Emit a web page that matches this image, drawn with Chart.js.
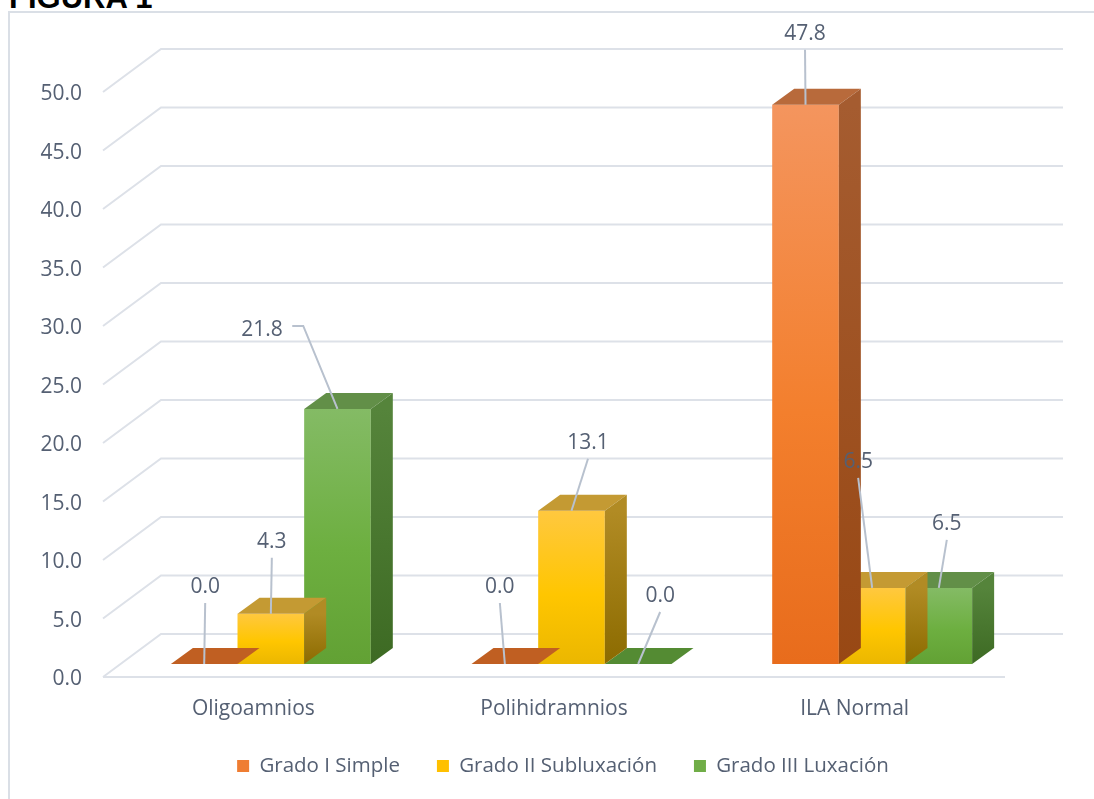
<!DOCTYPE html>
<html lang="es">
<head>
<meta charset="utf-8">
<title>Figura 1</title>
<script src="https://cdn.jsdelivr.net/npm/chart.js@4.4.1/dist/chart.umd.min.js"></script>
<style>
  html, body { margin: 0; padding: 0; background: #fff; overflow: hidden; }
  #wrap { position: relative; width: 1094px; height: 799px; overflow: hidden; }
  #caption { position: absolute; left: 9px; top: -18px; font: bold 31px/31px "Liberation Sans", Arial, sans-serif; color: #000; white-space: nowrap; }
  #frame { position: absolute; left: 8px; top: 11px; width: 1200px; height: 900px; border: 2px solid #dadfe6; }
  #chart { position: absolute; left: 0; top: 0; }
</style>
</head>
<body>
<div id="wrap">
  <div id="caption">FIGURA 1</div>
  <div id="frame"></div>
  <canvas id="chart" width="1094" height="799"></canvas>
</div>
<script>
const categories = ['Oligoamnios', 'Polihidramnios', 'ILA Normal'];
const seriesNames = ['Grado I Simple', 'Grado II Subluxación', 'Grado III Luxación'];
const gradoI = [0.0, 0.0, 47.8];
const gradoII = [4.3, 13.1, 6.5];
const gradoIII = [21.8, 0.0, 6.5];
const yTicks = [0, 5, 10, 15, 20, 25, 30, 35, 40, 45, 50];

const textColor = '#556073';

// face colours per series: front gradient, side gradient, top, flat (zero bar), legend box
const palette = [
  { front: ['#f4955e', '#f37f2d', '#e86c1c'], side: ['#a55c30', '#984814'], top: '#b86a3b', flat: '#c05f22', legend: '#ef7d32' },
  { front: ['#ffc83f', '#ffc600', '#ebb700'], side: ['#b18b24', '#8c6b00'], top: '#c49a33', flat: '#c49a33', legend: '#ffc000' },
  { front: ['#84bb65', '#6daf40', '#62a134'], side: ['#55843b', '#3d6a23'], top: '#628f48', flat: '#548b33', legend: '#70ad47' }
];

// label centre relative to the top-centre of each bar's front face
const labelShift = [
  [[1, -79], [-5, -79], [-0.5, -73]],
  [[1, -74], [16.5, -70], [-14, -128]],
  [[-75.5, -81, 'elbow'], [22, -70], [8, -66]]
];

const DEPTH = { dx: 22, dy: -16 };      // bar thickness going back
const TO_FRONT = { dx: -17.5, dy: 13 }; // bar plane -> front edge of floor
const TO_BACK = { dx: 40.5, dy: -30 };  // bar plane -> back wall
const LEGEND_NUDGE = 36.75;

function frontFill(context) {
  const look = palette[context.datasetIndex];
  const chart = context.chart;
  if (context.type !== 'data' || !chart.chartArea) return look.legend;
  const y = chart.scales.y;
  const top = y.getPixelForValue(context.raw);
  const base = y.getPixelForValue(0);
  if (base - top < 1) return 'rgba(0,0,0,0)';
  const g = chart.ctx.createLinearGradient(0, top, 0, base);
  g.addColorStop(0, look.front[0]);
  g.addColorStop(0.55, look.front[1]);
  g.addColorStop(1, look.front[2]);
  return g;
}

const walls = {
  id: 'walls',
  beforeDatasetsDraw(chart) {
    const { ctx, chartArea: a, scales: { y } } = chart;
    const xf = a.left + TO_FRONT.dx;
    const xb = a.left + TO_BACK.dx;
    const xe = a.right + TO_BACK.dx;
    ctx.save();
    ctx.strokeStyle = '#dde1e8';
    ctx.lineWidth = 2;
    y.ticks.forEach(t => {
      const py = y.getPixelForValue(t.value);
      ctx.beginPath();
      ctx.moveTo(xf, py + TO_FRONT.dy);
      ctx.lineTo(xb, py + TO_BACK.dy);
      ctx.lineTo(xe, py + TO_BACK.dy);
      ctx.stroke();
    });
    const floor = y.getPixelForValue(0) + TO_FRONT.dy;
    ctx.beginPath();
    ctx.moveTo(xf, floor);
    ctx.lineTo(a.right + TO_FRONT.dx, floor);
    ctx.stroke();
    ctx.restore();
  }
};

const boxes = {
  id: 'boxes',
  afterDatasetDraw(chart, args) {
    const { ctx } = chart;
    const look = palette[args.index];
    ctx.save();
    args.meta.data.forEach(bar => {
      const { x, y, base, width } = bar.getProps(['x', 'y', 'base', 'width'], true);
      const l = x - width / 2;
      const r = x + width / 2;
      const flat = base - y < 1;
      ctx.fillStyle = flat ? look.flat : look.top;
      ctx.beginPath();
      ctx.moveTo(l, y);
      ctx.lineTo(r, y);
      ctx.lineTo(r + DEPTH.dx, y + DEPTH.dy);
      ctx.lineTo(l + DEPTH.dx, y + DEPTH.dy);
      ctx.closePath();
      ctx.fill();
      if (!flat) {
        const g = ctx.createLinearGradient(0, y, 0, base);
        g.addColorStop(0, look.side[0]);
        g.addColorStop(1, look.side[1]);
        ctx.fillStyle = g;
        ctx.beginPath();
        ctx.moveTo(r, y);
        ctx.lineTo(r + DEPTH.dx, y + DEPTH.dy);
        ctx.lineTo(r + DEPTH.dx, base + DEPTH.dy);
        ctx.lineTo(r, base);
        ctx.closePath();
        ctx.fill();
      }
    });
    ctx.restore();
  }
};

const valueLabels = {
  id: 'valueLabels',
  afterDatasetsDraw(chart) {
    const { ctx } = chart;
    ctx.save();
    ctx.font = '21px "Open Sans"';
    ctx.textAlign = 'center';
    ctx.textBaseline = 'middle';
    chart.data.datasets.forEach((ds, di) => {
      chart.getDatasetMeta(di).data.forEach((bar, i) => {
        const [dx, dy, kind] = labelShift[di][i];
        const text = ds.data[i].toFixed(1);
        const tx = bar.x + dx;
        const ty = bar.y + dy;
        ctx.strokeStyle = '#b8c1ce';
        ctx.lineWidth = 2;
        ctx.beginPath();
        if (kind === 'elbow') {
          const w = ctx.measureText(text).width;
          ctx.moveTo(tx + w / 2 + 9.5, ty - 2);
          ctx.lineTo(tx + w / 2 + 20.5, ty - 2);
        } else {
          ctx.moveTo(tx, ty + 18);
        }
        ctx.lineTo(bar.x, bar.y);
        ctx.stroke();
        ctx.fillStyle = textColor;
        ctx.fillText(text, tx, ty + 2);
      });
    });
    ctx.restore();
  }
};

// legend row sits right of the plot centre; x labels need room below their box
const layoutTweaks = {
  id: 'layoutTweaks',
  afterLayout(chart) {
    chart.legend.left += LEGEND_NUDGE;
    chart.legend.right += LEGEND_NUDGE;
    chart.scales.x.bottom += 14;
  }
};

Chart.defaults.font.family = '"Open Sans", sans-serif';
Chart.defaults.font.size = 21;
Chart.defaults.color = textColor;

new Chart(document.getElementById('chart'), {
  type: 'bar',
  data: {
    labels: categories,
    datasets: [gradoI, gradoII, gradoIII].map((values, i) => ({
      label: seriesNames[i],
      data: values,
      backgroundColor: frontFill,
      borderWidth: 0,
      categoryPercentage: 0.665,
      barPercentage: 1
    }))
  },
  options: {
    responsive: false,
    animation: false,
    events: [],
    layout: { padding: { top: 79, left: 30, right: 71.5, bottom: 12.75 } },
    plugins: {
      tooltip: { enabled: false },
      legend: {
        position: 'bottom',
        labels: {
          boxWidth: 12,
          boxHeight: 12,
          padding: 37,
          color: textColor,
          font: { size: 20.5 },
          generateLabels: chart => Chart.defaults.plugins.legend.labels.generateLabels(chart).map((item, i) => ({
            ...item,
            fillStyle: palette[i].legend,
            strokeStyle: palette[i].legend,
            lineWidth: 0
          }))
        }
      }
    },
    scales: {
      x: {
        grid: { display: false, drawTicks: false },
        border: { display: false },
        ticks: { padding: 32, labelOffset: TO_FRONT.dx },
        afterFit(scale) { scale.height = 54.75; }
      },
      y: {
        min: 0,
        max: 50,
        grid: { display: false, drawTicks: false },
        border: { display: false },
        afterBuildTicks(scale) { scale.ticks = yTicks.map(v => ({ value: v })); },
        ticks: { padding: 38.5, labelOffset: TO_FRONT.dy + 2.5, callback: v => Number(v).toFixed(1) },
        afterFit(scale) { scale.width = 90.5; }
      }
    }
  },
  plugins: [walls, boxes, valueLabels, layoutTweaks]
});
</script>
</body>
</html>
